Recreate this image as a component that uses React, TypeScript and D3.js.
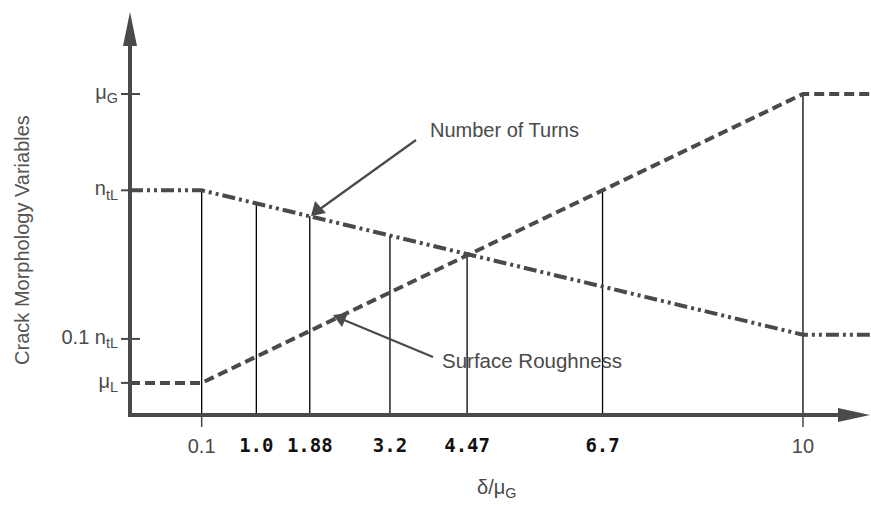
import React from 'react';
import * as d3 from 'd3';

// x tick values on the delta / mu_G axis
const xTicks = [0.1, 1.0, 1.88, 3.2, 4.47, 6.7, 10];
const xTickLabels = ['0.1', '1.0', '1.88', '3.2', '4.47', '6.7', '10'];
// ticks that belong to the original (grey) drawing; the others were pasted in bold
const xTickPlain = [true, false, false, false, false, false, true];

// y levels (not to scale, relative heights)
const yLevelNames = ['μ|L', '0.1 n|tL', 'n|tL', 'μ|G'];
const yLevelValues = [0.1, 0.237, 0.7, 1.0];

// series, sampled at the break points
const seriesX = [-1.08, 0.1, 10, 11.1];
const roughnessY = [0.1, 0.1, 1.0, 1.0];
const turnsY = [0.7, 0.7, 0.25, 0.25];

const W = 871;
const H = 505;
const axisX = 130;
const axisY = 415;
const ink = '#4a4a4a';
const sans = '"Liberation Sans", Arial, sans-serif';

const interp = (xs: number[], ys: number[], x: number) => {
    for (let i = 0; i < xs.length - 1; i++) {
        if (x >= xs[i] && x <= xs[i + 1]) {
            const t = (x - xs[i]) / (xs[i + 1] - xs[i]);
            return ys[i] + t * (ys[i + 1] - ys[i]);
        }
    }
    return ys[ys.length - 1];
};

const SubLabel: React.FC<{ text: string; x: number; y: number; size: number; anchor?: string }> = ({ text, x, y, size, anchor = 'end' }) => {
    const [main, sub] = text.split('|');
    return (
        <text x={x} y={y} fontFamily={sans} fontSize={size} fill={ink} textAnchor={anchor as any}>
            {main}
            <tspan fontSize={size * 0.72} dy={size * 0.22}>{sub}</tspan>
        </text>
    );
};

const App: React.FC = () => {
    const x = d3.scaleLinear().domain([-1.08, 11.12]).range([axisX, W]);
    const y = d3.scaleLinear().domain([0, 1]).range([axisY, 94]);

    const line = d3
        .line<number>()
        .x((_, i) => x(seriesX[i]))
        .y((d) => y(d));

    return (
        <svg width={W} height={H} style={{ position: 'absolute', left: 0, top: 0, background: '#fff' }}>
            {/* vertical guide lines from the axis up to the higher curve */}
            {xTicks.map((t, i) => {
                const top = Math.max(interp(seriesX, roughnessY, t), interp(seriesX, turnsY, t));
                return (
                    <line key={'v' + i} x1={x(t)} x2={x(t)} y1={axisY} y2={y(top)} stroke="#000" strokeWidth={1.3} />
                );
            })}

            {/* curves */}
            <path d={line(roughnessY)!} fill="none" stroke={ink} strokeWidth={4} strokeDasharray="10 5" />
            <path d={line(turnsY)!} fill="none" stroke={ink} strokeWidth={4} strokeDasharray="13 4 3 4 3 4" />

            {/* y axis with arrow */}
            <line x1={axisX} x2={axisX} y1={axisY + 2} y2={40} stroke={ink} strokeWidth={4} />
            <path d={`M${axisX},12 L${axisX - 7},46 L${axisX + 7},46 Z`} fill={ink} />
            {/* x axis with arrow */}
            <line x1={axisX - 2} x2={845} y1={axisY} y2={axisY} stroke={ink} strokeWidth={4} />
            <path d={`M870,${axisY} L838,${axisY - 7} L838,${axisY + 7} Z`} fill={ink} />

            {/* y ticks */}
            {yLevelValues.map((v, i) => (
                <g key={'y' + i}>
                    <line x1={axisX - 9} x2={axisX + 10} y1={y(v)} y2={y(v)} stroke={ink} strokeWidth={2} />
                    <SubLabel text={yLevelNames[i]} x={axisX - 12} y={y(v) + 5} size={20} />
                </g>
            ))}

            {/* x ticks */}
            {xTicks.map((t, i) =>
                xTickPlain[i] ? (
                    <g key={'x' + i}>
                        <line x1={x(t)} x2={x(t)} y1={axisY} y2={axisY + 12} stroke={ink} strokeWidth={1.5} />
                        <text x={x(t)} y={453} textAnchor="middle" fontFamily={sans} fontSize={20} fill={ink}>
                            {xTickLabels[i]}
                        </text>
                    </g>
                ) : (
                    <text key={'x' + i} x={x(t)} y={452} textAnchor="middle" fontFamily='"DejaVu Sans Mono", monospace' fontWeight="bold" fontSize={19} fill="#111">
                        {xTickLabels[i]}
                    </text>
                )
            )}

            {/* axis titles */}
            <text
                transform={`translate(29,240) rotate(-90)`}
                textAnchor="middle"
                fontFamily={sans}
                fontSize={20}
                fill="#555"
            >
                Crack Morphology Variables
            </text>
            <SubLabel text="δ/μ|G" x={477} y={494} size={20} anchor="start" />

            {/* annotations */}
            <text x={430} y={137} fontFamily={sans} fontSize={20} fill={ink}>Number of Turns</text>
            <line x1={416} y1={140} x2={320} y2={209} stroke={ink} strokeWidth={2.2} />
            <path d="M311,216 L315,201 L326,213 Z" fill={ink} />

            <text x={442} y={368} fontFamily={sans} fontSize={20.5} fill={ink}>Surface Roughness</text>
            <line x1={433} y1={357} x2={344} y2={320} stroke={ink} strokeWidth={2.2} />
            <path d="M333,315 L348,313 L342,327 Z" fill={ink} />
        </svg>
    );
};

export default App;
